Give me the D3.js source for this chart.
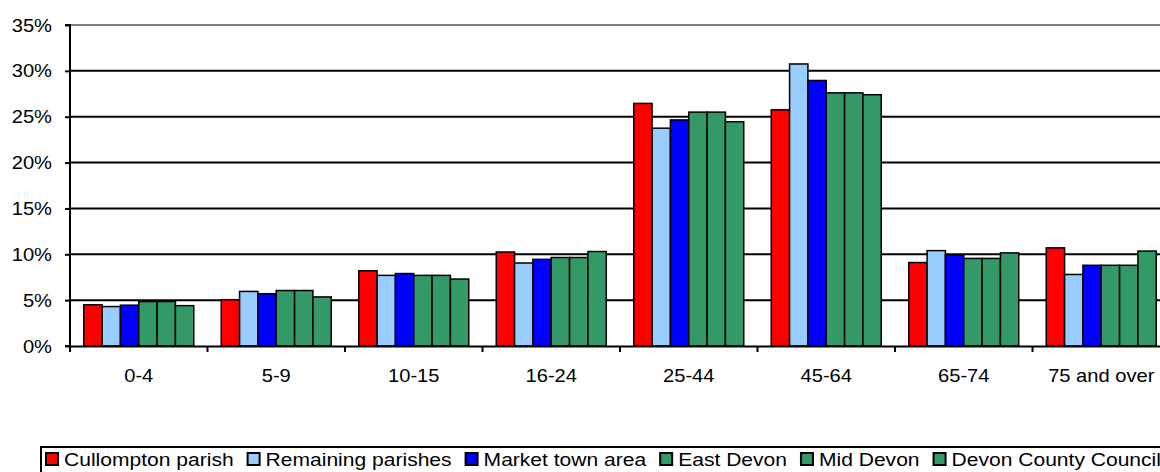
<!DOCTYPE html>
<html><head><meta charset="utf-8">
<script src="https://cdn.jsdelivr.net/npm/d3@7"></script>
<style>body{margin:0;background:#fff;overflow:hidden}svg{display:block;font-family:"Liberation Sans",Arial,sans-serif}</style>
</head><body>
<svg id="c" width="1160" height="472"></svg>
<script>
const categories = ["0-4","5-9","10-15","16-24","25-44","45-64","65-74","75 and over"];
const seriesNames = ["Cullompton parish","Remaining parishes","Market town area","East Devon","Mid Devon","Devon County Council"];
const seriesColors = ["#FF0000","#99CCFF","#0000FF","#339966","#339966","#339966"];
const cullompton = [4.5, 5.05, 8.2, 10.25, 26.45, 25.75, 9.1, 10.7];
const remaining  = [4.3, 5.95, 7.7, 9.05, 23.75, 30.75, 10.4, 7.8];
const marketTown = [4.45, 5.7, 7.9, 9.45, 24.65, 28.95, 9.95, 8.8];
const eastDevon  = [4.85, 6.05, 7.7, 9.65, 25.5, 27.6, 9.55, 8.8];
const midDevon   = [4.85, 6.05, 7.7, 9.65, 25.5, 27.6, 9.55, 8.8];
const devonCC    = [4.4, 5.35, 7.3, 10.3, 24.45, 27.4, 10.15, 10.35];
const yTicks = [0,5,10,15,20,25,30,35];

(function(){
const seriesValues = [cullompton, remaining, marketTown, eastDevon, midDevon, devonCC];
const svg = d3.select("#c");
const L = 70, R = 1170, T = 25, B = 346;
const SX = 1.15;

const x = d3.scaleBand().domain(categories).range([L, R]).paddingInner(0).paddingOuter(0);
const xs = d3.scaleBand().domain(d3.range(seriesNames.length)).range([0, x.bandwidth()]).paddingInner(0).paddingOuter(0.75);
const y = d3.scaleLinear().domain([0,35]).range([B, T]);

svg.append("g").selectAll("line").data(yTicks.filter(d=>d>0)).join("line")
  .attr("x1", L).attr("x2", R)
  .attr("y1", d=>y(d)).attr("y2", d=>y(d))
  .attr("stroke", d=> d===35 ? "#808080" : "#000").attr("stroke-width", 2);

const g = svg.append("g");
seriesValues.forEach((vals, si) => {
  g.append("g").selectAll("rect").data(vals).join("rect")
    .attr("x", (d,i)=> x(categories[i]) + xs(si))
    .attr("y", d=> y(d))
    .attr("width", xs.bandwidth())
    .attr("height", d=> y(0)-y(d))
    .attr("fill", seriesColors[si])
    .attr("stroke", "#000").attr("stroke-width", 1.5);
});

const yAxis = d3.axisLeft(y).tickValues(yTicks).tickFormat(d=>d+"%").tickSize(5);
const ya = svg.append("g").attr("transform", `translate(${L},0)`).call(yAxis);
ya.select(".domain").attr("stroke","#000").attr("stroke-width",2).attr("d", `M-5,${T}H0V${B}H-5`);
ya.selectAll(".tick line").attr("stroke","#000").attr("stroke-width",2);
ya.selectAll("text").attr("font-size",17.5).attr("fill","#000").attr("font-family","Liberation Sans, Arial, sans-serif")
  .attr("x",0).attr("dy","0.35em").attr("transform",`translate(-18,0) scale(${SX},1)`);

const xAxis = d3.axisBottom(x).tickSize(0);
const xa = svg.append("g").attr("transform", `translate(0,${B})`).call(xAxis);
xa.select(".domain").attr("stroke","#000").attr("stroke-width",2);
xa.selectAll("text").attr("font-size",17.5).attr("fill","#000").attr("font-family","Liberation Sans, Arial, sans-serif")
  .attr("y",36).attr("dy",0).attr("transform",`scale(${SX},1)`);
xa.selectAll(".bnd").data(d3.range(categories.length+1)).join("line")
  .attr("x1", i=> L + i*x.bandwidth()).attr("x2", i=> L + i*x.bandwidth())
  .attr("y1", 0).attr("y2", 6).attr("stroke","#000").attr("stroke-width",2);

const lg = svg.append("g");
lg.append("rect").attr("x",41).attr("y",447).attr("width",1300).attr("height",60)
  .attr("fill","#fff").attr("stroke","#000").attr("stroke-width",2);
let cx = 46;
seriesNames.forEach((name, i) => {
  lg.append("rect").attr("x", cx).attr("y", 453).attr("width", 12).attr("height", 12)
    .attr("fill", seriesColors[i]).attr("stroke","#000").attr("stroke-width",2);
  const t = lg.append("text").attr("x", 0).attr("y", 0)
    .attr("transform", `translate(${cx+18},466) scale(${SX},1)`)
    .attr("font-size",18.3).attr("fill","#000").text(name);
  cx += 18 + t.node().getComputedTextLength()*SX + 14;
});
})();
</script>
</body></html>
